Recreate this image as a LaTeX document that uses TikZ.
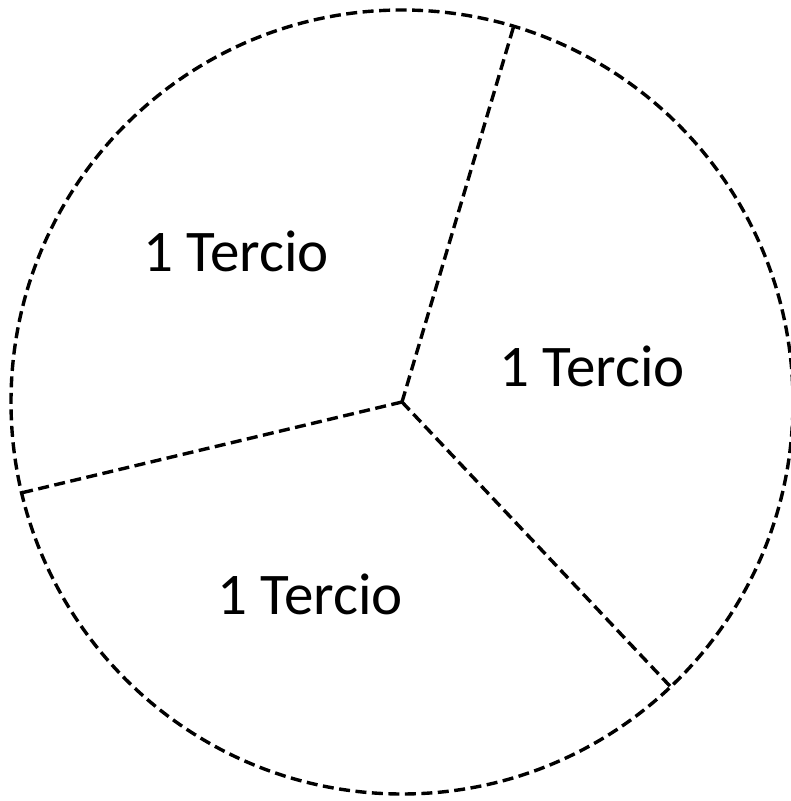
\documentclass[tikz,border=0pt]{standalone}
\usepackage{fontspec}
\setmainfont{Carlito}
\usetikzlibrary{calc}

\begin{document}
\begin{tikzpicture}[x=1pt, y=1pt, every node/.style={font=\fontsize{59}{64}\selectfont},
	cut/.style={line width=3.4pt, dash pattern=on 11pt off 5.5pt}]
	\useasboundingbox (0,0) rectangle (791,801);
	\coordinate (c) at (402,399);
	\draw[cut] (c) ellipse (391 and 392);
	\foreach \a/\n in {73.4/top, 193.4/left, 313.4/right} {\coordinate (\n) at ($(c)+({391*cos(\a)},{392*sin(\a)})$);}
	\draw[cut] (c) -- (top);
	\draw[cut] (c) -- (left);
	\draw[cut] (c) -- (right);
	\node (t1) at (236,550) {1 Tercio};
	\node (t2) at (592,435) {1 Tercio};
	\node (t3) at (310,207) {1 Tercio};
\end{tikzpicture}
\end{document}
